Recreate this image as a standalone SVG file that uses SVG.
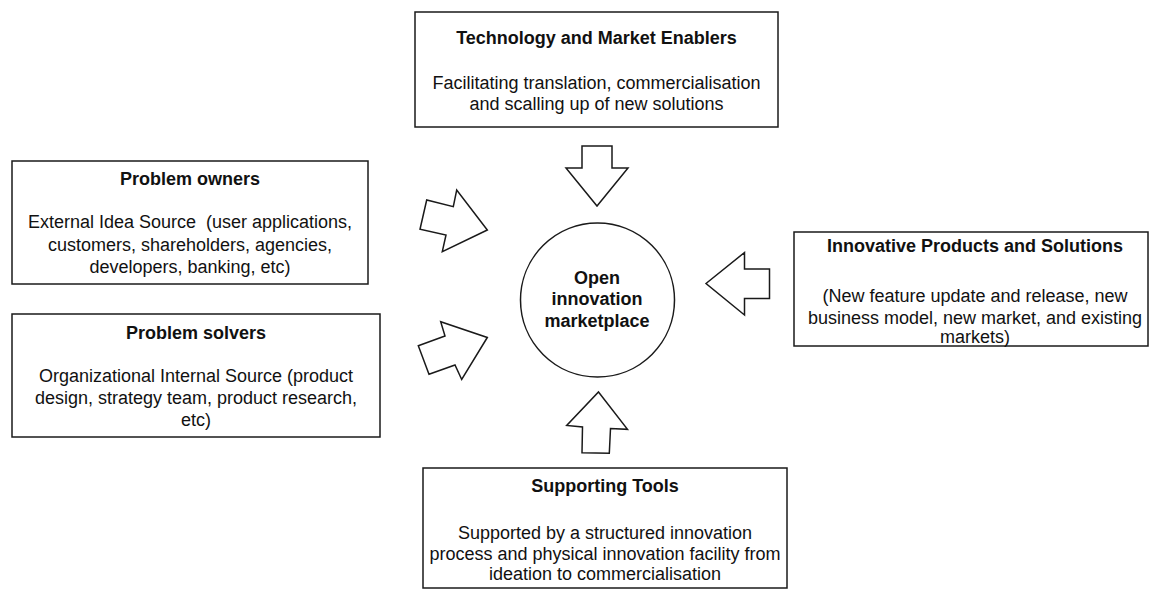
<svg xmlns="http://www.w3.org/2000/svg" width="1150" height="590" viewBox="0 0 1150 590">
  <style>
    .box { fill: #ffffff; stroke: #1a1a1a; stroke-width: 1.5; }
    .hub { fill: #ffffff; stroke: #1a1a1a; stroke-width: 1.5; }
    .arrow { fill: #ffffff; stroke: #1a1a1a; stroke-width: 1.5; stroke-linejoin: miter; }
    .title { font-family: "Liberation Sans", Arial, sans-serif; font-size: 18px; font-weight: bold; fill: #111111; text-anchor: middle; }
    .body { font-family: "Liberation Sans", Arial, sans-serif; font-size: 18px; fill: #111111; text-anchor: middle; }
  </style>
  <rect width="1150" height="590" fill="#ffffff"/>

  <!-- Central hub -->
  <g id="hub">
    <circle class="hub" cx="597.5" cy="300" r="77"/>
    <text class="title" x="597" y="283.5">Open</text>
    <text class="title" x="597" y="305">innovation</text>
    <text class="title" x="597" y="326.5">marketplace</text>
  </g>

  <!-- Top: enablers -->
  <g id="enablers">
    <rect class="box" x="415" y="12" width="363" height="115"/>
    <text class="title" x="596.5" y="44">Technology and Market Enablers</text>
    <text class="body" x="596.5" y="88.5">Facilitating translation, commercialisation</text>
    <text class="body" x="596.5" y="109.5">and scalling up of new solutions</text>
  </g>

  <!-- Left: problem owners -->
  <g id="problem-owners">
    <rect class="box" x="12" y="161" width="356" height="123"/>
    <text class="title" x="190" y="185">Problem owners</text>
    <text class="body" x="190" y="228" xml:space="preserve">External Idea Source  (user applications,</text>
    <text class="body" x="190" y="250.5">customers, shareholders, agencies,</text>
    <text class="body" x="190" y="272.5">developers, banking, etc)</text>
  </g>

  <!-- Left: problem solvers -->
  <g id="problem-solvers">
    <rect class="box" x="12" y="314" width="368" height="123"/>
    <text class="title" x="196" y="338.5">Problem solvers</text>
    <text class="body" x="196" y="382">Organizational Internal Source (product</text>
    <text class="body" x="196" y="404">design, strategy team, product research,</text>
    <text class="body" x="196" y="426">etc)</text>
  </g>

  <!-- Right: products and solutions -->
  <g id="products">
    <rect class="box" x="794" y="232" width="354" height="114"/>
    <text class="title" x="975" y="252">Innovative Products and Solutions</text>
    <text class="body" x="975" y="302">(New feature update and release, new</text>
    <text class="body" x="975" y="323.5">business model, new market, and existing</text>
    <text class="body" x="975" y="342.5">markets)</text>
  </g>

  <!-- Bottom: supporting tools -->
  <g id="supporting-tools">
    <rect class="box" x="423" y="468" width="364" height="120"/>
    <text class="title" x="605" y="492">Supporting Tools</text>
    <text class="body" x="605" y="538.5">Supported by a structured innovation</text>
    <text class="body" x="605" y="560">process and physical innovation facility from</text>
    <text class="body" x="605" y="580">ideation to commercialisation</text>
  </g>

  <!-- Block arrows pointing into the hub -->
  <g id="connectors">
    <polygon class="arrow" points="582,146 612,146 612,168 628,168 597,206 566,168 582,168"/>
    <polygon class="arrow" points="598.5,392 627.5,429.3 610.5,428.5 609.3,453.3 582,452.7 582.5,427 566.7,425.5"/>
    <polygon class="arrow" points="706,283.5 744.5,252.5 744.5,269 769.5,269 769.5,298.5 744.5,298.5 744.5,315"/>
    <polygon class="arrow" points="487.3,230 442.3,251.7 446,235 420,229.3 426.7,200 453.3,206.7 456.7,190"/>
    <polygon class="arrow" points="487.3,337.5 461.7,379.5 455,365 429,374.3 418.3,345.8 445,336 440.7,321.7"/>
  </g>
</svg>
